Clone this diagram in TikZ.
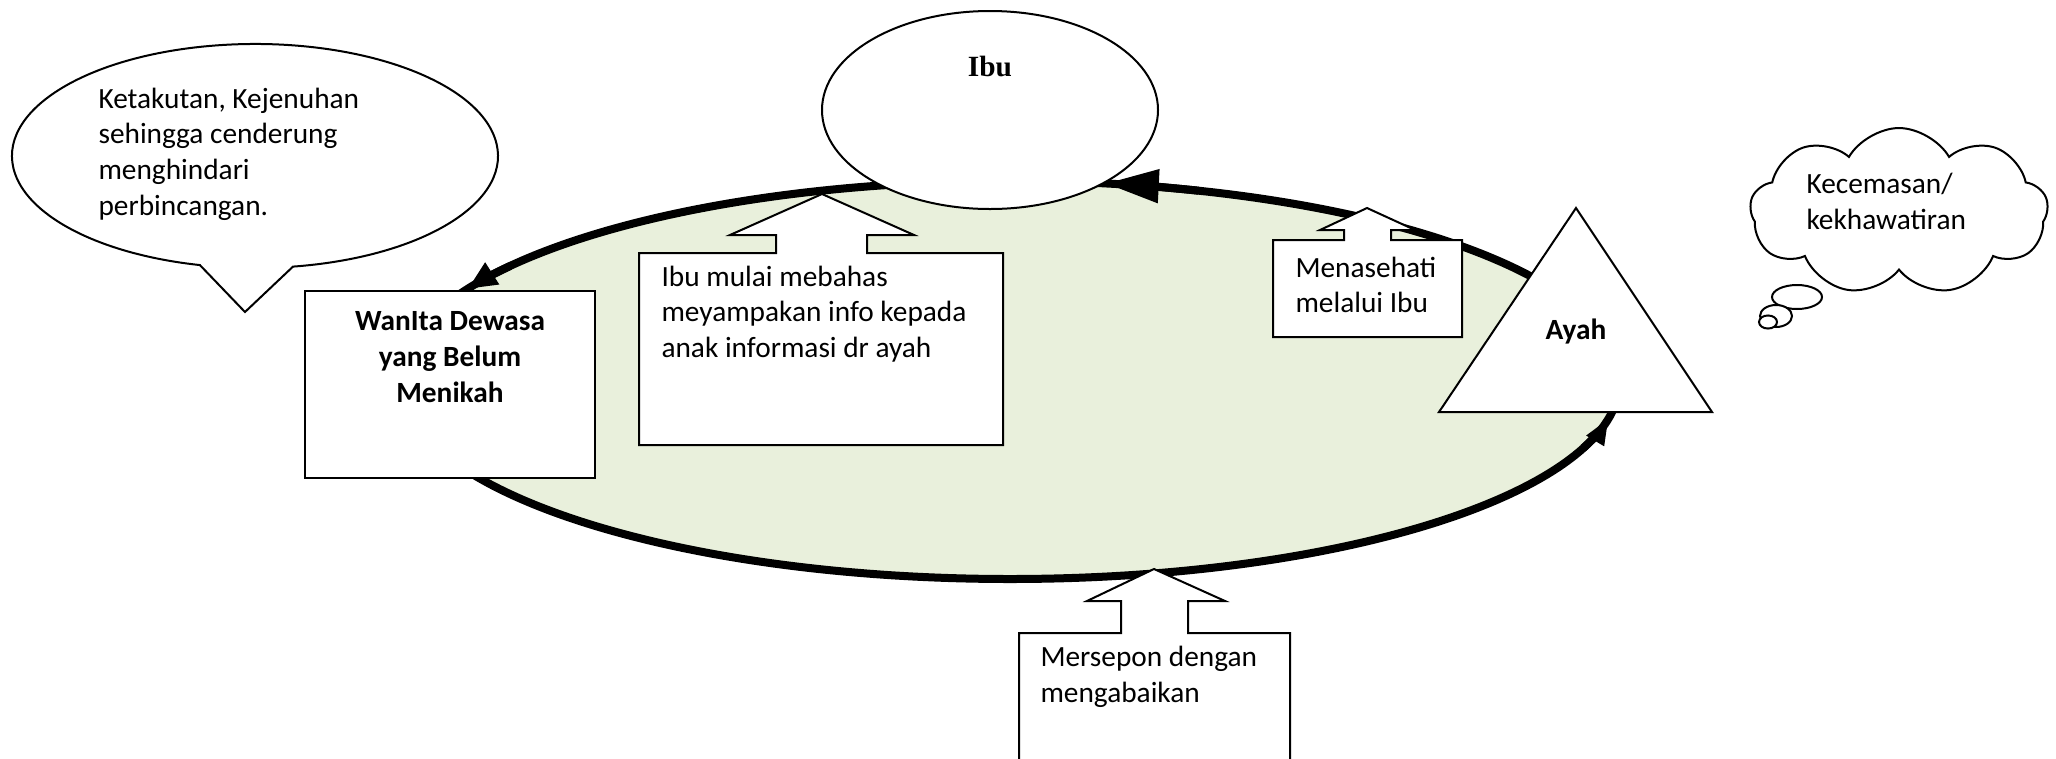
\documentclass[tikz,border=0pt]{standalone}
\usepackage{fontspec}
\setmainfont{Carlito}
\newfontfamily\timesf{Liberation Serif}
\usetikzlibrary{shapes.geometric,shapes.symbols,arrows.meta}
\definecolor{lightolive}{RGB}{233,240,220}
\begin{document}
\begin{tikzpicture}[x=0.375pt,y=-0.375pt,
  thinline/.style={draw=black,line width=0.75pt,fill=white},
  thickline/.style={draw=black,line width=3pt},
  txt/.style={inner sep=0pt,align=left,font=\fontsize{11pt}{13.4pt}\selectfont},
  btxt/.style={inner sep=0pt,align=center,font=\fontsize{11pt}{13.4pt}\selectfont\bfseries}]
\useasboundingbox (0,0) rectangle (2056,758);

% big cycle ellipse
\node[ellipse,thickline,fill=lightolive,minimum width=457.5pt,minimum height=149.25pt,inner sep=0pt] (loop) at (1010,380) {};

% speech bubble
\draw[thinline] (293,266.6) arc[start angle=81,end angle=-256.9,x radius=243,y radius=112] -- (245,312) -- cycle;
\node[txt,anchor=west] (fear) at (98,154) {Ketakutan, Kejenuhan\\sehingga cenderung\\menghindari\\perbincangan.};

% Wanita box
\node[rectangle,thinline,minimum width=108.75pt,minimum height=70.1pt,inner sep=0pt] (wanita) at (450,384.5) {};
\node[btxt] (wanitatext) at (450,357) {WanIta Dewasa\\yang Belum\\Menikah};

% Ibu ellipse
\node[ellipse,thinline,minimum width=126pt,minimum height=74.25pt,inner sep=0pt] (ibu) at (990,110) {};
\node[inner sep=0pt,font=\timesf\fontsize{11pt}{13pt}\selectfont\bfseries] (ibutext) at (990,66) {Ibu};

% callout: Ibu mulai
\draw[thinline] (639,253) -- (776,253) -- (776,235) -- (730,235) -- (822,194) -- (914,235) -- (867,235) -- (867,253) -- (1003,253) -- (1003,445) -- (639,445) -- cycle;
\node[txt,anchor=west] (ibumulai) at (661,314) {Ibu mulai mebahas\\meyampakan info kepada\\anak informasi dr ayah};

% callout: Menasehati
\draw[thinline] (1273,240) -- (1344,240) -- (1344,230) -- (1320,230) -- (1367,208) -- (1415,230) -- (1391,230) -- (1391,240) -- (1462,240) -- (1462,337) -- (1273,337) -- cycle;
\node[txt,anchor=west] (nasehat) at (1295,285) {Menasehati\\melalui Ibu};

% callout: Mersepon
\draw[thinline] (1019,633) -- (1121,633) -- (1121,601) -- (1087,601) -- (1154,569) -- (1225,601) -- (1188,601) -- (1188,633) -- (1290,633) -- (1290,775) -- (1019,775) -- cycle;
\node[txt,anchor=west] (respon) at (1040,677) {Mersepon dengan\\mengabaikan};

% Ayah triangle
\coordinate (apex) at (1576,208);
\coordinate (bl) at (1439,412);
\coordinate (br) at (1712,412);
\draw[thinline] (apex) -- (br) -- (bl) -- cycle;
\node[btxt] (ayah) at (1576,332) {Ayah};

% arrowheads on the cycle
\draw[thickline,-{Triangle[length=20pt,width=12pt]}] (1198.5,190.7) arc[start angle=-72,end angle=-81,x radius=610,y radius=199];
\draw[thickline,-{Triangle[length=11pt,width=9pt]}] (510.3,265.9) arc[start angle=-145,end angle=-152.8,x radius=610,y radius=199];
\draw[thickline,-{Triangle[length=10pt,width=7pt]}] (1583.2,448.1) arc[start angle=20,end angle=11,x radius=610,y radius=199];

% thought cloud
\node[cloud,thinline,cloud puffs=9,cloud puff arc=120,cloud ignores aspect,minimum width=111.75pt,minimum height=62.6pt,inner sep=0pt] (cloud) at (1899,211.5) {};
\node[ellipse,thinline,minimum width=18.75pt,minimum height=9pt,inner sep=0pt] (puffa) at (1797,297) {};
\node[ellipse,thinline,minimum width=12pt,minimum height=8.25pt,inner sep=0pt] (puffb) at (1776,316) {};
\node[ellipse,thinline,minimum width=6.75pt,minimum height=4.9pt,inner sep=0pt] (puffc) at (1768,322) {};
\node[txt,anchor=west] (worry) at (1806,201.5) {Kecemasan/\\kekhawatiran};
\end{tikzpicture}
\end{document}
